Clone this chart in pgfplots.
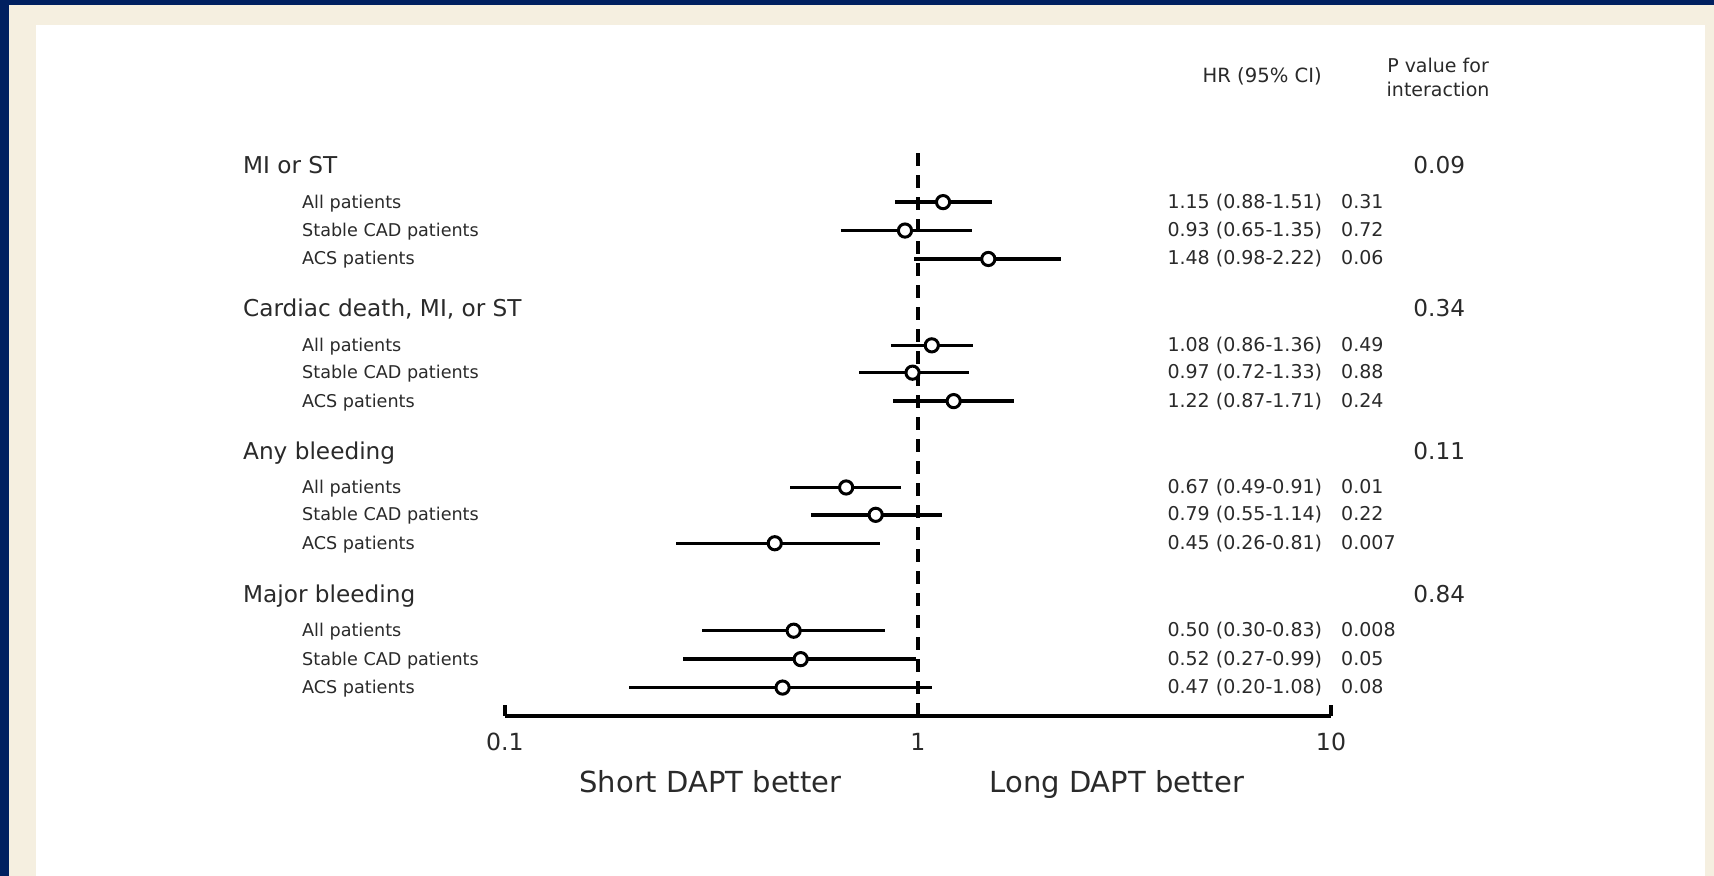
\documentclass[border=0pt]{standalone}
\usepackage{fontspec}
\setmainfont{DejaVu Sans}
\usepackage{pgfplots}
\pgfplotsset{compat=1.18}
\definecolor{navy}{HTML}{002060}
\definecolor{cream}{HTML}{F5EFE0}
\definecolor{txt}{HTML}{2A2A2A}
\tikzset{
  hdr/.style={anchor=west, text=txt, inner sep=0pt, text height=1.5ex, text depth=0.4ex, font=\fontsize{11.6}{13}\selectfont},
  sub/.style={anchor=west, text=txt, inner sep=0pt, text height=1.5ex, text depth=0.4ex, font=\fontsize{8.8}{10}\selectfont},
  hr/.style={anchor=west, text=txt, inner sep=0pt, text height=1.5ex, text depth=0.4ex, font=\fontsize{9.5}{10}\selectfont},
  pint/.style={anchor=center, text=txt, inner sep=0pt, text height=1.5ex, text depth=0.4ex, font=\fontsize{11.6}{13}\selectfont},
  gen/.style={anchor=center, text=txt, inner sep=0pt},
}
\begin{document}
\begin{tikzpicture}
\useasboundingbox (0,0) rectangle (857pt,438pt);
\fill[navy] (0,0) rectangle (857pt,438pt);
\fill[cream] (4.5pt,0) rectangle (857pt,435.5pt);
\fill[white] (18pt,0) rectangle (852.5pt,425.5pt);
\begin{axis}[
  at={(252.5pt,80pt)}, anchor=south west,
  scale only axis, width=413pt, height=287pt,
  xmode=log, xmin=0.1, xmax=10, ymin=146, ymax=671,
  axis x line*=bottom, axis y line=none,
  axis line style={line width=1.6pt, black},
  xtick={0.1,1,10}, xticklabels={0.1,1,10},
  xminorticks=false,
  tick align=inside, major tick length=5.5pt,
  x tick style={line width=1.6pt, black},
  xticklabel style={font=\fontsize{11.8}{13}\selectfont, text=txt, yshift=-5pt},
  /pgf/number format/assume math mode=true,
  clip=false,
]
% reference line at HR = 1
\addplot[black, line width=1.6pt, dash pattern=on 6.5pt off 4.5pt] coordinates {(1,146) (1,663)};
% confidence intervals
\addplot[black, line width=1.7pt] coordinates {(0.88,616) (1.51,616)};
\addplot[black, line width=1.7pt] coordinates {(0.65,590) (1.35,590)};
\addplot[black, line width=1.7pt] coordinates {(0.98,564) (2.22,564)};
\addplot[black, line width=1.7pt] coordinates {(0.86,485) (1.36,485)};
\addplot[black, line width=1.7pt] coordinates {(0.72,460) (1.33,460)};
\addplot[black, line width=1.7pt] coordinates {(0.87,434) (1.71,434)};
\addplot[black, line width=1.7pt] coordinates {(0.49,355) (0.91,355)};
\addplot[black, line width=1.7pt] coordinates {(0.55,330) (1.14,330)};
\addplot[black, line width=1.7pt] coordinates {(0.26,304) (0.81,304)};
\addplot[black, line width=1.7pt] coordinates {(0.30,224) (0.83,224)};
\addplot[black, line width=1.7pt] coordinates {(0.27,198) (0.99,198)};
\addplot[black, line width=1.7pt] coordinates {(0.20,172) (1.08,172)};
% hazard ratios
\addplot[only marks, mark=*, mark size=3.3pt, mark options={fill=white, draw=black, line width=1.5pt}] coordinates {
(1.15,616) (0.93,590) (1.48,564)
(1.08,485) (0.97,460) (1.22,434)
(0.67,355) (0.79,330) (0.45,304)
(0.50,224) (0.52,198) (0.47,172)};

% group headers
\node[hdr] at (rel axis cs:-0.3175,0.9562) {MI or ST};
\node[hdr] at (rel axis cs:-0.3175,0.7067) {Cardiac death, MI, or ST};
\node[hdr] at (rel axis cs:-0.3175,0.4571) {Any bleeding};
\node[hdr] at (rel axis cs:-0.3175,0.2076) {Major bleeding};
% subgroup labels
\node[sub] at (rel axis cs:-0.246,0.8952) {All patients};
\node[sub] at (rel axis cs:-0.246,0.6457) {All patients};
\node[sub] at (rel axis cs:-0.246,0.3981) {All patients};
\node[sub] at (rel axis cs:-0.246,0.1486) {All patients};
\node[sub] at (rel axis cs:-0.246,0.8457) {Stable CAD patients};
\node[sub] at (rel axis cs:-0.246,0.5981) {Stable CAD patients};
\node[sub] at (rel axis cs:-0.246,0.3505) {Stable CAD patients};
\node[sub] at (rel axis cs:-0.246,0.0990) {Stable CAD patients};
\node[sub] at (rel axis cs:-0.246,0.7962) {ACS patients};
\node[sub] at (rel axis cs:-0.246,0.5486) {ACS patients};
\node[sub] at (rel axis cs:-0.246,0.3010) {ACS patients};
\node[sub] at (rel axis cs:-0.246,0.0495) {ACS patients};
% HR text
\node[hr] at (rel axis cs:0.8016,0.8952) {1.15 (0.88-1.51)};
\node[hr] at (rel axis cs:0.8016,0.8457) {0.93 (0.65-1.35)};
\node[hr] at (rel axis cs:0.8016,0.7962) {1.48 (0.98-2.22)};
\node[hr] at (rel axis cs:0.8016,0.6457) {1.08 (0.86-1.36)};
\node[hr] at (rel axis cs:0.8016,0.5981) {0.97 (0.72-1.33)};
\node[hr] at (rel axis cs:0.8016,0.5486) {1.22 (0.87-1.71)};
\node[hr] at (rel axis cs:0.8016,0.3981) {0.67 (0.49-0.91)};
\node[hr] at (rel axis cs:0.8016,0.3505) {0.79 (0.55-1.14)};
\node[hr] at (rel axis cs:0.8016,0.3010) {0.45 (0.26-0.81)};
\node[hr] at (rel axis cs:0.8016,0.1486) {0.50 (0.30-0.83)};
\node[hr] at (rel axis cs:0.8016,0.0990) {0.52 (0.27-0.99)};
\node[hr] at (rel axis cs:0.8016,0.0495) {0.47 (0.20-1.08)};
% p values
\node[hr] at (rel axis cs:1.0119,0.8952) {0.31};
\node[hr] at (rel axis cs:1.0119,0.8457) {0.72};
\node[hr] at (rel axis cs:1.0119,0.7962) {0.06};
\node[hr] at (rel axis cs:1.0119,0.6457) {0.49};
\node[hr] at (rel axis cs:1.0119,0.5981) {0.88};
\node[hr] at (rel axis cs:1.0119,0.5486) {0.24};
\node[hr] at (rel axis cs:1.0119,0.3981) {0.01};
\node[hr] at (rel axis cs:1.0119,0.3505) {0.22};
\node[hr] at (rel axis cs:1.0119,0.3010) {0.007};
\node[hr] at (rel axis cs:1.0119,0.1486) {0.008};
\node[hr] at (rel axis cs:1.0119,0.0990) {0.05};
\node[hr] at (rel axis cs:1.0119,0.0495) {0.08};
% interaction p values
\node[pint] at (rel axis cs:1.131,0.9562) {0.09};
\node[pint] at (rel axis cs:1.131,0.7067) {0.34};
\node[pint] at (rel axis cs:1.131,0.4571) {0.11};
\node[pint] at (rel axis cs:1.131,0.2076) {0.84};
% column headers
\node[gen, font=\fontsize{9.8}{11}\selectfont] at (rel axis cs:0.9167,1.1143) {HR (95\% CI)};
\node[gen, align=center, font=\fontsize{9.5}{12}\selectfont] at (rel axis cs:1.1296,1.1124) {P value for\\interaction};
% direction labels
\node[gen, anchor=base, font=\fontsize{14.5}{16}\selectfont] at (rel axis cs:0.2487,-0.1335) {Short DAPT better};
\node[gen, anchor=base, font=\fontsize{14.5}{16}\selectfont] at (rel axis cs:0.7407,-0.1335) {Long DAPT better};
\end{axis}
\end{tikzpicture}
\end{document}
